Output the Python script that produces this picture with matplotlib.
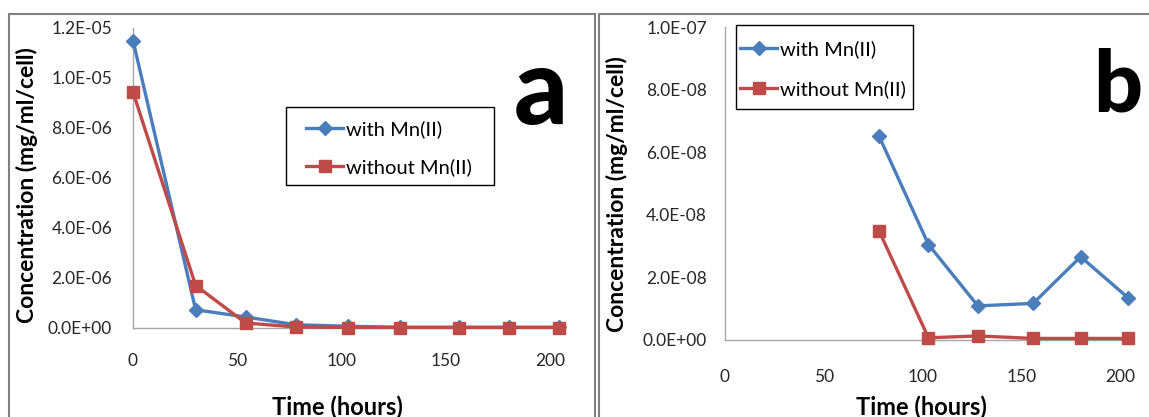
import matplotlib
matplotlib.use("Agg")
import matplotlib.pyplot as plt
from matplotlib.ticker import FuncFormatter
from matplotlib.lines import Line2D
from matplotlib.patches import Rectangle

# ---- data ----
time_a = [0, 30, 54, 78, 103, 128, 156, 180, 204]
with_a = [11.5e-6, 0.73e-6, 0.44e-6, 0.13e-6, 0.07e-6, 0.03e-6, 0.03e-6, 0.03e-6, 0.03e-6]
without_a = [9.44e-6, 1.70e-6, 0.20e-6, 0.04e-6, 0.02e-6, 0.02e-6, 0.02e-6, 0.02e-6, 0.02e-6]

time_b = [78, 103, 128, 156, 180, 204]
with_b = [6.51e-8, 3.05e-8, 1.09e-8, 1.17e-8, 2.66e-8, 1.35e-8]
without_b = [3.48e-8, 0.07e-8, 0.13e-8, 0.05e-8, 0.05e-8, 0.05e-8]

xticks = [0, 50, 100, 150, 200]
yticks_a = [0, 2e-6, 4e-6, 6e-6, 8e-6, 1.0e-5, 1.2e-5]
yticks_b = [0, 2e-8, 4e-8, 6e-8, 8e-8, 1.0e-7]
labels = ["with Mn(II)", "without Mn(II)"]

BLUE = "#4a7ebb"
RED = "#be4b48"
FONT = "Lato"

plt.rcParams['font.family'] = [FONT, 'DejaVu Sans']

W, H = 1149, 417
fig = plt.figure(figsize=(W / 100, H / 100), dpi=100)

def px_axes(l, r, t, b):
    return fig.add_axes([l / W, 1 - b / H, (r - l) / W, (b - t) / H])

def style(ax, yticks, ylim, xpad, ypad):
    ax.set_xlim(0, 205)
    ax.set_ylim(*ylim)
    ax.set_xticks(xticks)
    ax.set_yticks(yticks)
    ax.yaxis.set_major_formatter(FuncFormatter(lambda v, p: f"{v:.1E}"))
    for s in ["top", "right"]:
        ax.spines[s].set_visible(False)
    for s in ["left", "bottom"]:
        ax.spines[s].set_color("#a6a6a6")
        ax.spines[s].set_linewidth(1.0)
    ax.tick_params(axis="both", length=0, labelsize=12.5, colors="#262626")
    ax.tick_params(axis="x", pad=xpad)
    ax.tick_params(axis="y", pad=ypad)
    ax.patch.set_alpha(0)

def plot(ax, t, w, wo):
    ax.plot(t, w, color=BLUE, lw=2.4, marker="D", ms=7, mec=BLUE, mfc=BLUE, clip_on=False, zorder=3)
    ax.plot(t, wo, color=RED, lw=2.4, marker="s", ms=9, mec=RED, mfc=RED, clip_on=False, zorder=4)

# panel a
axa = px_axes(133, 561, 28, 328)
plot(axa, time_a, with_a, without_a)
style(axa, yticks_a, (0, 1.2e-5), 18, 15)
axa.set_ylabel("Concentration (mg/ml/cell)", fontsize=16.5, fontweight="bold")
axa.yaxis.set_label_coords(-0.222, 0.477)
axa.set_xlabel("Time (hours)", fontsize=17, fontweight="bold")
axa.xaxis.set_label_coords(0.477, -0.225)

# panel b
axb = px_axes(725, 1130, 27, 340)
plot(axb, time_b, with_b, without_b)
style(axb, yticks_b, (0, 1.0e-7), 21, 13)
axb.set_ylabel("Concentration (mg/ml/cell)", fontsize=16.5, fontweight="bold")
axb.yaxis.set_label_coords(-0.24, 0.466)
axb.set_xlabel("Time (hours)", fontsize=17, fontweight="bold")
axb.xaxis.set_label_coords(0.484, -0.178)

handles = [
    Line2D([], [], color=BLUE, lw=2.4, marker="D", ms=7),
    Line2D([], [], color=RED, lw=2.4, marker="s", ms=9),
]

def legend(ax, hx, row1, box, spacing):
    ax.legend(handles, labels, loc="upper left", bbox_to_anchor=(hx / W, 1 - (row1 - 8) / H),
              bbox_transform=fig.transFigure, fontsize=14.5, frameon=False,
              handlelength=1.85, handletextpad=0.12, labelspacing=spacing,
              borderpad=0, borderaxespad=0)
    l, t, r, b = box
    fig.patches.append(Rectangle((l / W, 1 - b / H), (r - l) / W, (b - t) / H,
                                 transform=fig.transFigure, fill=False, ec="#000000",
                                 lw=1.0, zorder=5))

legend(axa, 306, 128, (286, 107, 494, 185), 1.0)
legend(axb, 740, 48, (736, 25, 913, 109), 1.1)

fig.text(541 / W, 1 - 124 / H, "a", fontsize=76, fontweight="black", ha="center", va="baseline")
fig.text(1118 / W, 1 - 112 / H, "b", fontsize=62, fontweight="black", ha="center", va="baseline")

# panel borders
fig.patches.append(Rectangle((8.5 / W, -0.1), (595.5 - 8.5) / W, 1.1 - 14.5 / H,
                             transform=fig.transFigure, fill=False, ec="#808080", lw=1.5))
fig.patches.append(Rectangle((598.5 / W, -0.1), 1.1, 1.1 - 14.5 / H,
                             transform=fig.transFigure, fill=False, ec="#808080", lw=1.5))

fig.savefig("out.png", dpi=100)
